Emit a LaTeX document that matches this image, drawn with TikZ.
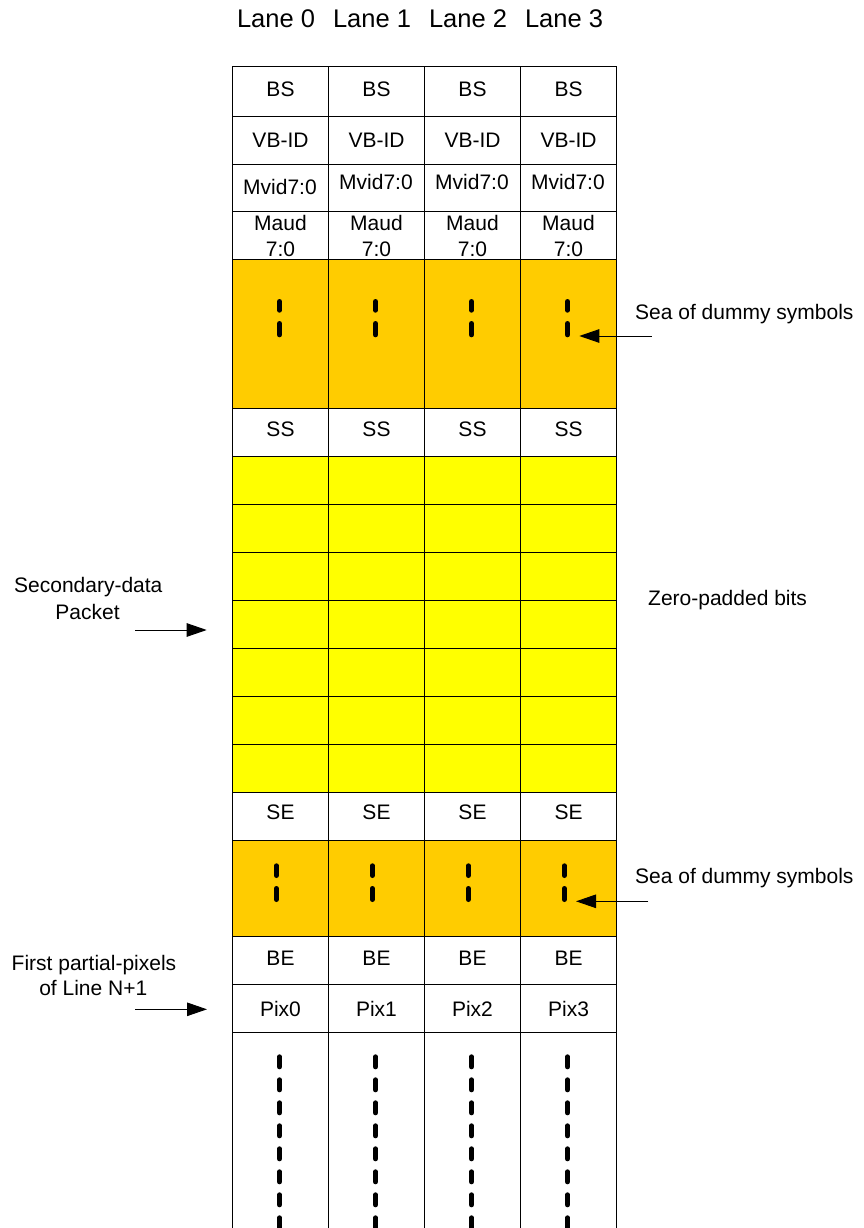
\documentclass[tikz,border=0pt]{standalone}
\usepackage{fontspec}
\setmainfont{Liberation Sans}
\usetikzlibrary{arrows.meta}
\definecolor{seaorange}{HTML}{FFCC00}
\definecolor{padyellow}{HTML}{FFFF00}
\newcommand\upby[2]{\raisebox{#1}[\height][\depth]{#2}}
\begin{document}
\begin{tikzpicture}[x=1pt,y=-1pt,
  cell/.style={draw=black,line width=1pt,minimum width=96pt,minimum height=#1,
    inner sep=0pt,anchor=north west,font=\fontsize{21}{26}\selectfont,align=center},
  celltext/.style={inner sep=0pt,font=\fontsize{21}{26}\selectfont},
  lbl/.style={inner sep=0pt,font=\fontsize{21}{26}\selectfont},
  lanelbl/.style={inner sep=0pt,anchor=base,font=\fontsize{25.5}{30}\selectfont},
  dashmark/.style={line width=4.8pt,line cap=round},
  dotcol/.style={line width=4.8pt,line cap=round,dash pattern=on 10.2pt off 12.8pt},
  arr/.style={line width=1pt,-{Triangle[length=20pt,width=13.5pt]}}
]
\useasboundingbox (0,0) rectangle (863,1228);
\fill[white] (0,0) rectangle (863,1228);

\begin{scope}
\clip (0,0) rectangle (863,1228);
\foreach \i in {0,...,3} {
  \pgfmathsetmacro\x{232+96*\i}
  \pgfmathsetmacro\my{\i==0 ? 187 : 182}
  \node[lanelbl] (lane\i) at (\x+44,27.3) {Lane \i};
  \node[cell=49.5pt] (bs\i) at (\x,66.5) {\upby{2pt}{BS}};
  \node[cell=48pt] (vb\i) at (\x,116) {VB-ID};
  \node[cell=47pt] (mv\i) at (\x,164) {};
  \node[celltext] (mvt\i) at (\x+48,\my) {Mvid7:0};
  \node[cell=48pt] (ma\i) at (\x,211) {Maud\\7:0};
  \node[cell=149pt,fill=seaorange] (so\i) at (\x,259) {};
  \node[cell=48pt] (ss\i) at (\x,408) {\upby{3.5pt}{SS}};
  \foreach \r in {0,...,6}
    \node[cell=48pt,fill=padyellow] (zp\i\r) at (\x,456+48*\r) {};
  \node[cell=48pt] (se\i) at (\x,792) {\upby{4pt}{SE}};
  \node[cell=96pt,fill=seaorange] (sl\i) at (\x,840) {};
  \node[cell=48pt] (be\i) at (\x,936) {\upby{2.5pt}{BE}};
  \node[cell=48pt] (px\i) at (\x,984) {Pix\i};
  \node[cell=220pt] (lf\i) at (\x,1032) {};
  % dashes in upper sea of dummy symbols
  \draw[dashmark] (\x+47.5,301.4) -- (\x+47.5,310.3);
  \draw[dashmark] (\x+47.5,323.4) -- (\x+47.5,334.9);
  % dashes in lower sea of dummy symbols
  \draw[dashmark] (\x+44.3,865.7) -- (\x+44.3,875.6);
  \draw[dashmark] (\x+44.3,888.4) -- (\x+44.3,899.6);
  % long dotted continuation
  \draw[dotcol] (\x+47.5,1056.7) -- (\x+47.5,1240);
}
\end{scope}

% right labels
\node[lbl,anchor=base west] (seaup) at (635,319.3) {Sea of dummy symbols};
\node[lbl,anchor=base west] (zero) at (648,605.6) {Zero-padded bits};
\node[lbl,anchor=base west] (sealo) at (635,883) {Sea of dummy symbols};

% left labels
\node[lbl,anchor=base] (sec1) at (88.3,592.6) {Secondary-data};
\node[lbl,anchor=base] (sec2) at (87.5,619.3) {Packet};
\node[lbl,anchor=base] (fp1) at (94,970.6) {First partial-pixels};
\node[lbl,anchor=base] (fp2) at (93.3,995.1) {of Line N+1};

% arrows
\coordinate (aup0) at (651.7,336);
\coordinate (aup1) at (579.3,336);
\coordinate (alo0) at (648.3,901.3);
\coordinate (alo1) at (576,901.3);
\coordinate (asec0) at (135,630);
\coordinate (asec1) at (206.7,630);
\coordinate (afp0) at (135,1009.3);
\coordinate (afp1) at (207,1009.3);
\draw[arr] (aup0) -- (aup1);
\draw[arr] (alo0) -- (alo1);
\draw[arr] (asec0) -- (asec1);
\draw[arr] (afp0) -- (afp1);
\end{tikzpicture}
\end{document}
